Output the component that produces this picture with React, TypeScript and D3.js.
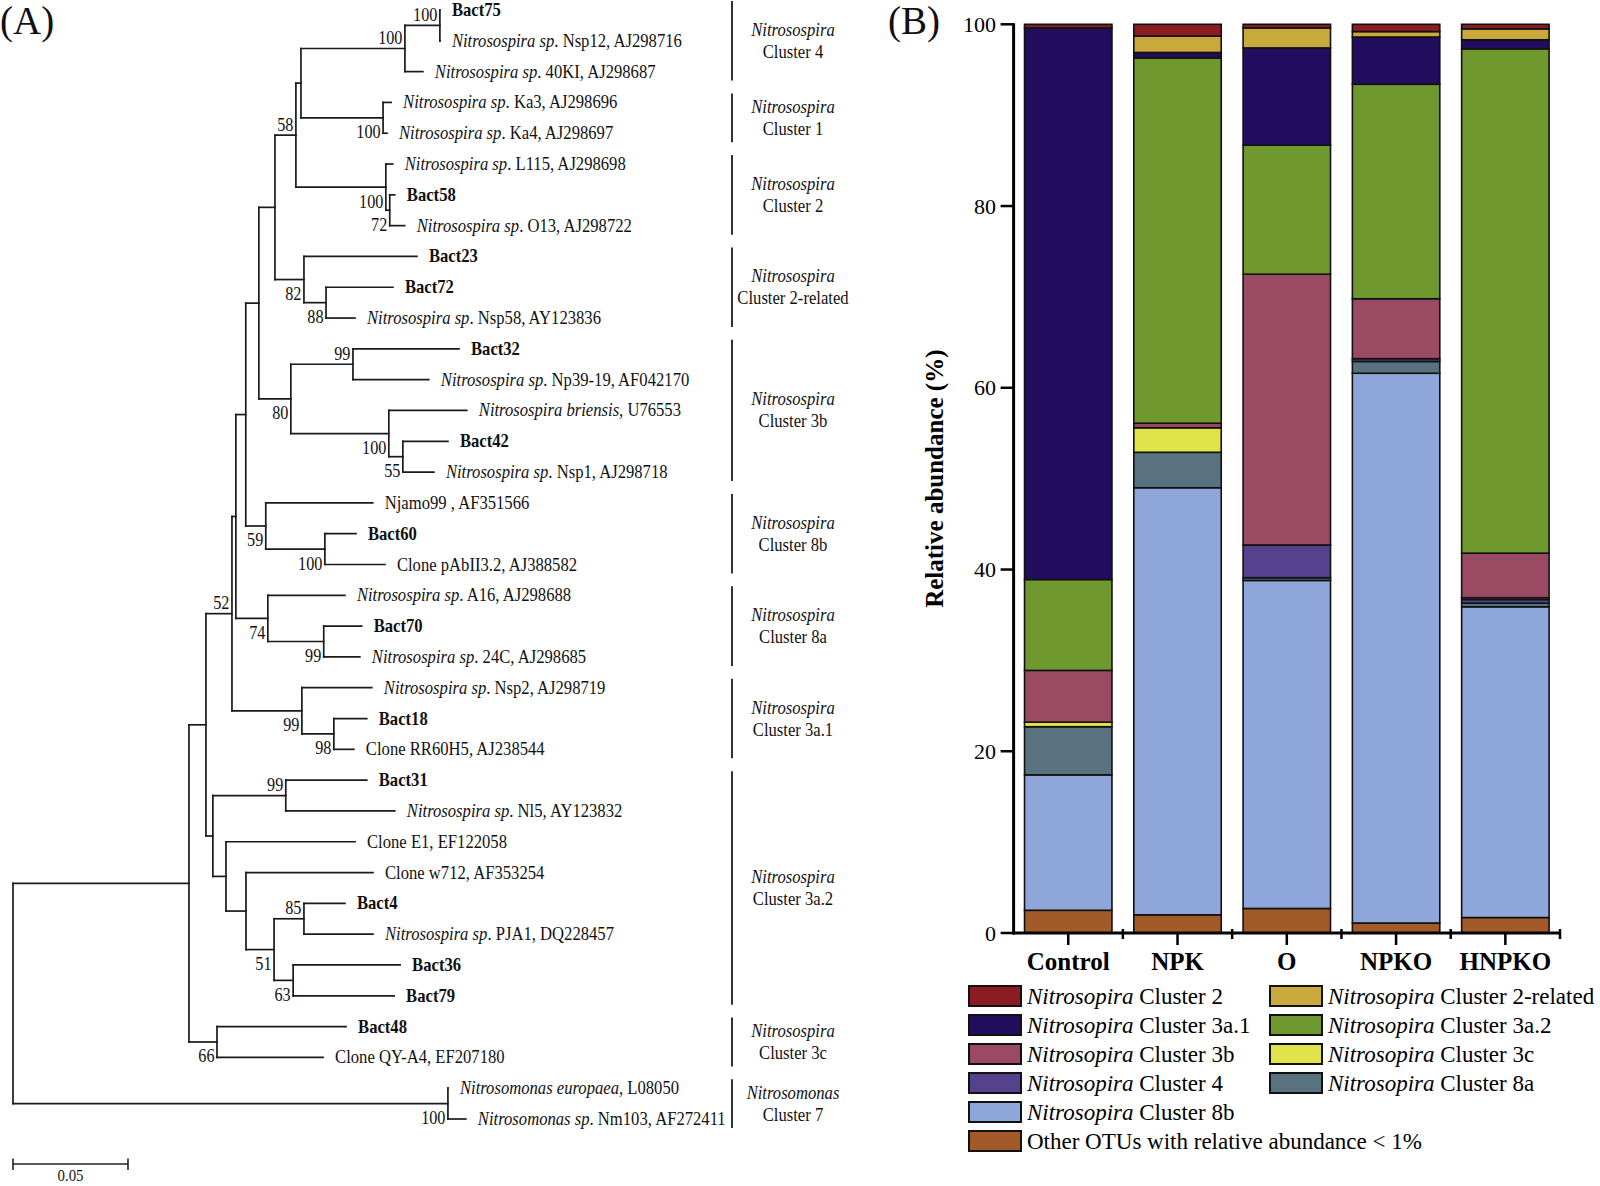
import React from 'react';
import * as d3 from 'd3';

const FONT = '"Liberation Serif", "Times New Roman", Times, serif';
const SX = 0.9; // tree text in the original is narrow

// ---------- (A) tree: [id, parent, branch length, bootstrap]
const treeNodes: [string, string | null, number, number | null][] = [
  ['root', null, 0, null],
  ['P', 'root', 0.0765, null],
  ['T', 'P', 0.0074, null],
  ['U', 'T', 0.0113, 52],
  ['V', 'U', 0.0017, null],
  ['W', 'V', 0.0043, null],
  ['Y', 'W', 0.0057, null],
  ['X', 'Y', 0.007, null],
  ['n58', 'X', 0.0091, 58],
  ['n4_1', 'n58', 0.0022, null],
  ['n4', 'n4_1', 0.0452, 100],
  ['n75', 'n4', 0.0152, 100],
  ['Bact75', 'n75', 0, null],
  ['Nsp12', 'n75', 0, null],
  ['40KI', 'n4', 0.0078, null],
  ['n1', 'n4_1', 0.0357, 100],
  ['Ka3', 'n1', 0.0035, null],
  ['Ka4', 'n1', 0.0017, null],
  ['n2', 'n58', 0.0391, 100],
  ['L115', 'n2', 0.003, null],
  ['n72', 'n2', 0.0017, 72],
  ['Bact58', 'n72', 0.0022, null],
  ['O13', 'n72', 0.0065, null],
  ['n82', 'X', 0.0126, 82],
  ['Bact23', 'n82', 0.0491, null],
  ['n88', 'n82', 0.0096, 88],
  ['Bact72', 'n88', 0.0291, null],
  ['Nsp58', 'n88', 0.0126, null],
  ['n80', 'Y', 0.0139, 80],
  ['n99a', 'n80', 0.027, 99],
  ['Bact32', 'n99a', 0.0461, null],
  ['Np39', 'n99a', 0.033, null],
  ['n100b', 'n80', 0.0426, 100],
  ['briensis', 'n100b', 0.0339, null],
  ['n55', 'n100b', 0.0061, 55],
  ['Bact42', 'n55', 0.0196, null],
  ['Nsp1', 'n55', 0.0135, null],
  ['n59', 'W', 0.0087, 59],
  ['Njamo99', 'n59', 0.0465, null],
  ['n100c', 'n59', 0.0257, 100],
  ['Bact60', 'n100c', 0.0135, null],
  ['pAbII', 'n100c', 0.0261, null],
  ['n74', 'V', 0.0139, 74],
  ['A16', 'n74', 0.0335, null],
  ['n99d', 'n74', 0.0243, 99],
  ['Bact70', 'n99d', 0.0165, null],
  ['24C', 'n99d', 0.0157, null],
  ['n99e', 'U', 0.0304, 99],
  ['Nsp2', 'n99e', 0.0304, null],
  ['n98', 'n99e', 0.0139, 98],
  ['Bact18', 'n98', 0.0143, null],
  ['RR60H5', 'n98', 0.0087, null],
  ['S', 'T', 0.003, null],
  ['n99f', 'S', 0.0317, 99],
  ['Bact31', 'n99f', 0.0352, null],
  ['Nl5', 'n99f', 0.0474, null],
  ['R', 'S', 0.0057, null],
  ['E1', 'R', 0.0561, null],
  ['Q', 'R', 0.0087, null],
  ['w712', 'Q', 0.0552, null],
  ['n51', 'Q', 0.0122, 51],
  ['n85', 'n51', 0.013, 85],
  ['Bact4', 'n85', 0.0178, null],
  ['PJA1', 'n85', 0.03, null],
  ['n63', 'n51', 0.0083, 63],
  ['Bact36', 'n63', 0.0465, null],
  ['Bact79', 'n63', 0.0439, null],
  ['n66', 'P', 0.0122, 66],
  ['Bact48', 'n66', 0.0561, null],
  ['QYA4', 'n66', 0.0461, null],
  ['nNm', 'root', 0.1891, 100],
  ['europaea', 'nNm', 0, null],
  ['Nm103', 'nNm', 0.0078, null],
];

// bootstrap values written above the branch (the rest go below)
const labelsAbove = ['n75', 'n4', 'n58', 'n99a', 'U', 'n99f', 'n85'];

// [id, italic part, plain part, bold]
const leafText: [string, string, string, boolean][] = [
  ['Bact75', '', 'Bact75', true],
  ['Nsp12', 'Nitrosospira sp', '. Nsp12, AJ298716', false],
  ['40KI', 'Nitrosospira sp', '. 40KI, AJ298687', false],
  ['Ka3', 'Nitrosospira sp', '. Ka3, AJ298696', false],
  ['Ka4', 'Nitrosospira sp', '. Ka4, AJ298697', false],
  ['L115', 'Nitrosospira sp', '. L115, AJ298698', false],
  ['Bact58', '', 'Bact58', true],
  ['O13', 'Nitrosospira sp', '. O13, AJ298722', false],
  ['Bact23', '', 'Bact23', true],
  ['Bact72', '', 'Bact72', true],
  ['Nsp58', 'Nitrosospira sp', '. Nsp58, AY123836', false],
  ['Bact32', '', 'Bact32', true],
  ['Np39', 'Nitrosospira sp', '. Np39-19, AF042170', false],
  ['briensis', 'Nitrosospira briensis', ', U76553', false],
  ['Bact42', '', 'Bact42', true],
  ['Nsp1', 'Nitrosospira sp', '. Nsp1, AJ298718', false],
  ['Njamo99', '', 'Njamo99 , AF351566', false],
  ['Bact60', '', 'Bact60', true],
  ['pAbII', '', 'Clone pAbII3.2, AJ388582', false],
  ['A16', 'Nitrosospira sp', '. A16, AJ298688', false],
  ['Bact70', '', 'Bact70', true],
  ['24C', 'Nitrosospira sp', '. 24C, AJ298685', false],
  ['Nsp2', 'Nitrosospira sp', '. Nsp2, AJ298719', false],
  ['Bact18', '', 'Bact18', true],
  ['RR60H5', '', 'Clone RR60H5, AJ238544', false],
  ['Bact31', '', 'Bact31', true],
  ['Nl5', 'Nitrosospira sp', '. Nl5, AY123832', false],
  ['E1', '', 'Clone E1, EF122058', false],
  ['w712', '', 'Clone w712, AF353254', false],
  ['Bact4', '', 'Bact4', true],
  ['PJA1', 'Nitrosospira sp', '. PJA1, DQ228457', false],
  ['Bact36', '', 'Bact36', true],
  ['Bact79', '', 'Bact79', true],
  ['Bact48', '', 'Bact48', true],
  ['QYA4', '', 'Clone QY-A4, EF207180', false],
  ['europaea', 'Nitrosomonas europaea', ', L08050', false],
  ['Nm103', 'Nitrosomonas sp', '. Nm103, AF272411', false],
];

// [genus, cluster, first leaf, last leaf]
const clusters: [string, string, string, string][] = [
  ['Nitrosospira', 'Cluster 4', 'Bact75', '40KI'],
  ['Nitrosospira', 'Cluster 1', 'Ka3', 'Ka4'],
  ['Nitrosospira', 'Cluster 2', 'L115', 'O13'],
  ['Nitrosospira', 'Cluster 2-related', 'Bact23', 'Nsp58'],
  ['Nitrosospira', 'Cluster 3b', 'Bact32', 'Nsp1'],
  ['Nitrosospira', 'Cluster 8b', 'Njamo99', 'pAbII'],
  ['Nitrosospira', 'Cluster 8a', 'A16', '24C'],
  ['Nitrosospira', 'Cluster 3a.1', 'Nsp2', 'RR60H5'],
  ['Nitrosospira', 'Cluster 3a.2', 'Bact31', 'Bact79'],
  ['Nitrosospira', 'Cluster 3c', 'Bact48', 'QYA4'],
  ['Nitrosomonas', 'Cluster 7', 'europaea', 'Nm103'],
];

const scaleBarLength = 0.05;

// ---------- (B) stacked bars, relative abundance (%)
const treatments = ['Control', 'NPK', 'O', 'NPKO', 'HNPKO'];
const other = [2.5, 2.0, 2.7, 1.1, 1.7];
const c8b = [14.9, 47.0, 36.1, 60.5, 34.2];
const c8a = [5.3, 3.9, 0.3, 1.3, 0.4];
const c4 = [0, 0, 3.6, 0.3, 0.4];
const c3c = [0.5, 2.7, 0, 0, 0.2];
const c3b = [5.7, 0.5, 29.8, 6.6, 4.9];
const c3a2 = [10.0, 40.2, 14.2, 23.6, 55.5];
const c3a1 = [60.7, 0.6, 10.7, 5.2, 1.0];
const c2r = [0, 1.8, 2.2, 0.6, 1.2];
const c2 = [0.4, 1.3, 0.4, 0.8, 0.5];

const stackKeys = ['other', 'c8b', 'c8a', 'c4', 'c3c', 'c3b', 'c3a2', 'c3a1', 'c2r', 'c2'];
const stackValues: Record<string, number[]> = { other, c8b, c8a, c4, c3c, c3b, c3a2, c3a1, c2r, c2 };
const colors: Record<string, string> = {
  c2: '#8b1c24',
  c2r: '#c9a93c',
  c3a1: '#230d5f',
  c3a2: '#6f992e',
  c3b: '#9a4a62',
  c3c: '#e1e34a',
  c4: '#55428e',
  c8a: '#58737f',
  c8b: '#8fa6da',
  other: '#a25a29',
};

// legend entries: [key, italic part, plain part]
const legendItems: [string, string, string][] = [
  ['c2', 'Nitrosopira', ' Cluster 2'],
  ['c2r', 'Nitrosopira', ' Cluster 2-related'],
  ['c3a1', 'Nitrosopira', ' Cluster 3a.1'],
  ['c3a2', 'Nitrosopira', ' Cluster 3a.2'],
  ['c3b', 'Nitrosopira', ' Cluster 3b'],
  ['c3c', 'Nitrosopira', ' Cluster 3c'],
  ['c4', 'Nitrosopira', ' Cluster 4'],
  ['c8a', 'Nitrosopira', ' Cluster 8a'],
  ['c8b', 'Nitrosopira', ' Cluster 8b'],
  ['other', '', 'Other OTUs with relative abundance < 1%'],
];

const yTicks = [0, 20, 40, 60, 80, 100];

const TText = ({ x, y, size, anchor = 'start', weight = 'normal', children }: any) => (
  <text
    transform={`translate(${x},${y}) scale(${SX},1)`}
    fontSize={size}
    fontWeight={weight}
    textAnchor={anchor}
    fontFamily={FONT}
    fill="#111"
  >
    {children}
  </text>
);

function Tree() {
  const xScale = d3.scaleLinear().domain([0, scaleBarLength]).range([13, 128]);
  const root: any = d3
    .stratify<[string, string | null, number, number | null]>()
    .id((d) => d[0])
    .parentId((d) => d[1])(treeNodes);

  const leaves = root.leaves();
  const leafY = d3.scaleLinear().domain([0, leaves.length - 1]).range([10, 1119]);

  root.eachBefore((n: any) => {
    n.dist = n.parent ? n.parent.dist + n.data[2] : 0;
    n.px = xScale(n.dist);
  });
  leaves.forEach((n: any, i: number) => (n.py = leafY(i)));
  root.eachAfter((n: any) => {
    if (n.children) n.py = (n.children[0].py + n.children[n.children.length - 1].py) / 2;
  });

  const byId: Record<string, any> = {};
  root.each((n: any) => (byId[n.id] = n));
  const textById: Record<string, [string, string, string, boolean]> = {};
  leafText.forEach((t) => (textById[t[0]] = t));

  const lines: JSX.Element[] = [];
  root.each((n: any) => {
    if (n.parent) {
      lines.push(<line key={'h' + n.id} x1={n.parent.px} x2={n.px} y1={n.py} y2={n.py} />);
    }
    if (n.children) {
      const a = n.children[0].py;
      const b = n.children[n.children.length - 1].py;
      lines.push(<line key={'v' + n.id} x1={n.px} x2={n.px} y1={a} y2={b} />);
    }
  });

  const boots: JSX.Element[] = [];
  root.each((n: any) => {
    if (n.children && n.data[3] != null) {
      const above = labelsAbove.includes(n.id);
      boots.push(
        <TText key={'b' + n.id} x={n.px - 2.5} y={above ? n.py - 4.5 : n.py + 20.5} size={18} anchor="end">
          {n.data[3]}
        </TText>
      );
    }
  });

  return (
    <g>
      <g stroke="#1a1a1a" strokeWidth={1.7} strokeLinecap="square">
        {lines}
      </g>
      {boots}
      {leaves.map((n: any) => {
        const t = textById[n.id];
        return (
          <TText key={'t' + n.id} x={n.px + 12} y={n.py + 6} size={18.5} weight={t[3] ? 'bold' : 'normal'}>
            {t[1] && <tspan fontStyle="italic">{t[1]}</tspan>}
            <tspan>{t[2]}</tspan>
          </TText>
        );
      })}
      {clusters.map((c) => {
        const y1 = byId[c[2]].py;
        const y2 = byId[c[3]].py;
        const mid = (y1 + y2) / 2;
        return (
          <g key={c[1]}>
            <line x1={732} x2={732} y1={y1 - 9} y2={y2 + 9} stroke="#333" strokeWidth={2} />
            <TText x={793} y={mid - 5} size={18.5} anchor="middle">
              <tspan fontStyle="italic">{c[0]}</tspan>
            </TText>
            <TText x={793} y={mid + 17} size={18.5} anchor="middle">
              {c[1]}
            </TText>
          </g>
        );
      })}
      <g stroke="#222" strokeWidth={1.6}>
        <line x1={xScale(0)} x2={xScale(scaleBarLength)} y1={1164} y2={1164} />
        <line x1={xScale(0)} x2={xScale(0)} y1={1158.5} y2={1170} />
        <line x1={xScale(scaleBarLength)} x2={xScale(scaleBarLength)} y1={1158.5} y2={1170} />
      </g>
      <TText x={(xScale(0) + xScale(scaleBarLength)) / 2} y={1181} size={16.5} anchor="middle">
        {scaleBarLength}
      </TText>
    </g>
  );
}

function Bars() {
  const rows = treatments.map((t, i) => {
    const r: any = { name: t };
    stackKeys.forEach((k) => (r[k] = stackValues[k][i]));
    return r;
  });
  const series = d3.stack().keys(stackKeys)(rows);

  const x = d3.scaleBand().domain(treatments).range([1013.6, 1560]).paddingInner(0.2).paddingOuter(0.1);
  const y = d3.scaleLinear().domain([0, 100]).range([933, 24.3]);
  const axisX = 1013.6;
  const step = x.step();

  return (
    <g fontFamily={FONT}>
      {series.map((s) => (
        <g key={s.key} fill={colors[s.key]} stroke="#111" strokeWidth={1.6}>
          {s.map((d: any, i: number) =>
            d[1] - d[0] > 0 ? (
              <rect
                key={i}
                x={x(treatments[i])}
                width={x.bandwidth()}
                y={y(d[1])}
                height={y(d[0]) - y(d[1])}
              />
            ) : null
          )}
        </g>
      ))}
      {/* y axis */}
      <line x1={axisX} x2={axisX} y1={y(100) - 1} y2={y(0) + 1.5} stroke="#000" strokeWidth={3} />
      {yTicks.map((t) => (
        <g key={t}>
          <line x1={axisX - 13} x2={axisX} y1={y(t)} y2={y(t)} stroke="#000" strokeWidth={2.5} />
          <text x={996} y={y(t) + 7.5} fontSize={22} textAnchor="end" fill="#000">
            {t}
          </text>
        </g>
      ))}
      {/* x axis */}
      <line x1={axisX - 1.5} x2={1561} y1={y(0)} y2={y(0)} stroke="#000" strokeWidth={3} />
      {treatments.map((t, i) => (
        <g key={t}>
          <line
            x1={x(t)! + x.bandwidth() / 2}
            x2={x(t)! + x.bandwidth() / 2}
            y1={y(0)}
            y2={y(0) + 12}
            stroke="#000"
            strokeWidth={2.5}
          />
          <line
            x1={axisX + (i + 1) * step}
            x2={axisX + (i + 1) * step}
            y1={y(0) - 4}
            y2={y(0) + 6}
            stroke="#000"
            strokeWidth={2.5}
          />
          <text x={x(t)! + x.bandwidth() / 2} y={970} fontSize={25} fontWeight="bold" textAnchor="middle">
            {t}
          </text>
        </g>
      ))}
      <text
        transform={`translate(943,${(y(0) + y(100)) / 2}) rotate(-90)`}
        fontSize={25}
        fontWeight="bold"
        textAnchor="middle"
      >
        Relative abundance (%)
      </text>
      {/* legend */}
      {legendItems.map((it, i) => {
        const last = it[0] === 'other';
        const row = last ? 5 : Math.floor(i / 2);
        const col = last ? 0 : i % 2;
        const lx = col === 0 ? 969 : 1270;
        const ly = 996 + row * 29;
        return (
          <g key={it[0]}>
            <rect x={lx} y={ly - 10} width={52} height={20} fill={colors[it[0]]} stroke="#111" strokeWidth={2} />
            <text x={lx + 58} y={ly + 8} fontSize={23} fill="#000">
              {it[1] && <tspan fontStyle="italic">{it[1]}</tspan>}
              <tspan>{it[2]}</tspan>
            </text>
          </g>
        );
      })}
    </g>
  );
}

export default function App() {
  return (
    <div style={{ position: 'absolute', left: 0, top: 0, background: '#fff' }}>
      <svg width={1600} height={1186} style={{ display: 'block', background: '#fff' }}>
        <text x={0} y={34} fontSize={39} fontFamily={FONT} fill="#111">
          (A)
        </text>
        <text x={888} y={34} fontSize={39} fontFamily={FONT} fill="#111">
          (B)
        </text>
        <Tree />
        <Bars />
      </svg>
    </div>
  );
}
